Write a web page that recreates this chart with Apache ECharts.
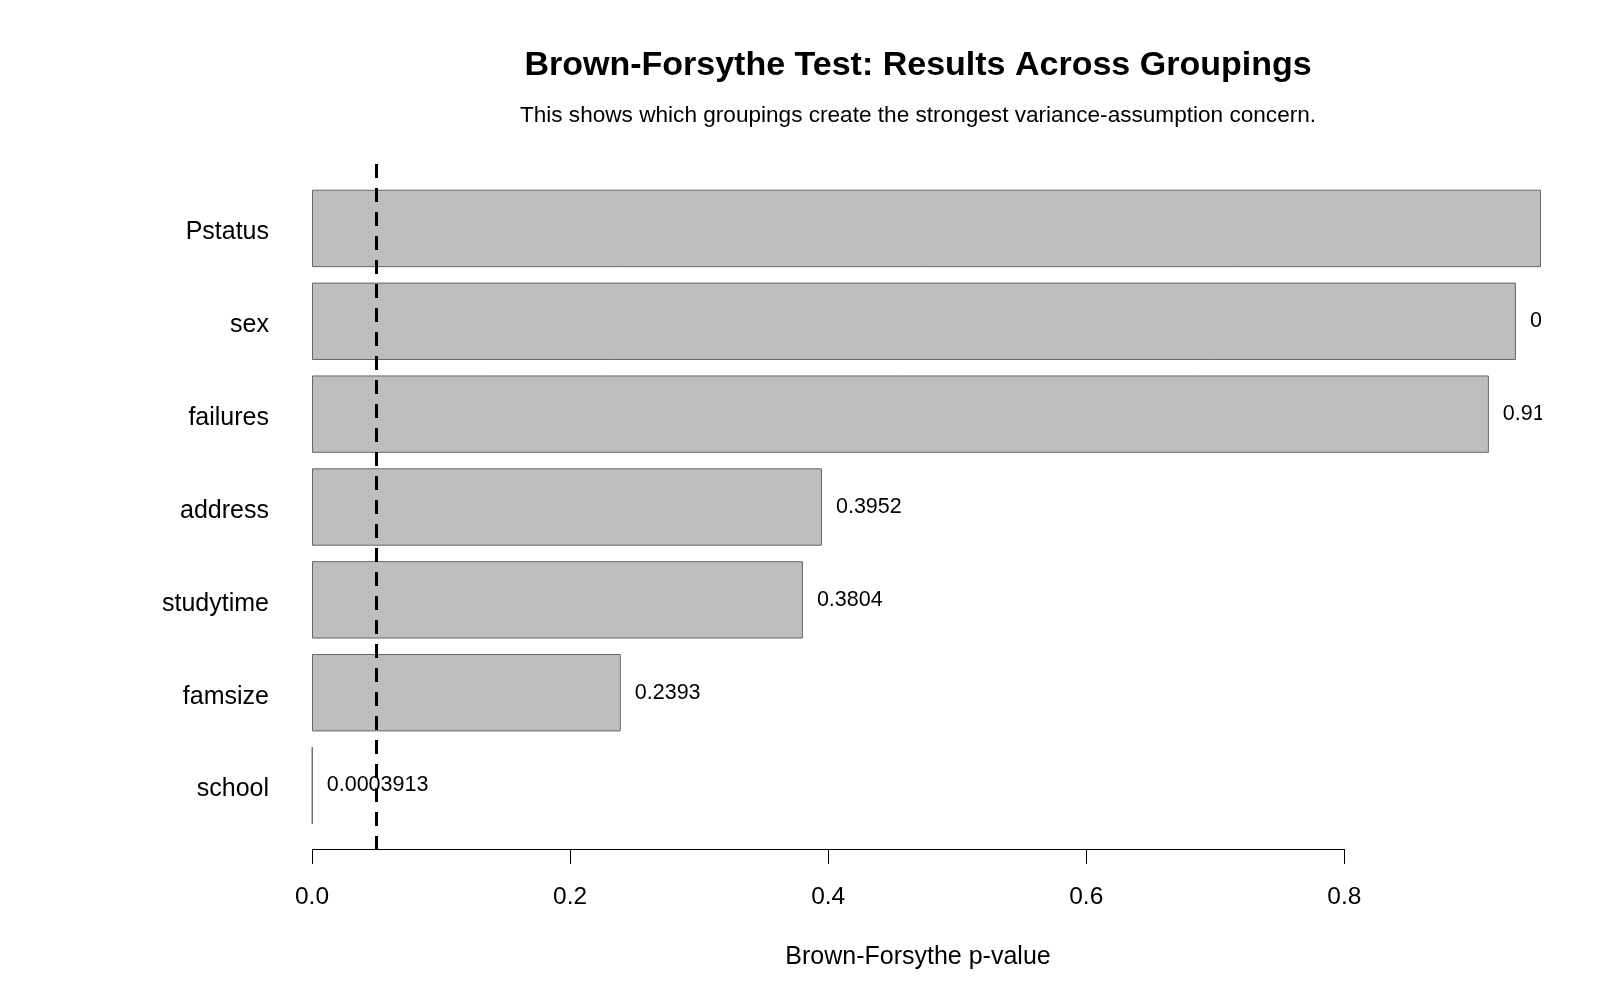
<!DOCTYPE html>
<html>
<head>
<meta charset="utf-8">
<title>Brown-Forsythe Test</title>
<script src="https://cdn.jsdelivr.net/npm/echarts@6/dist/echarts.min.js"></script>
<style>
  html, body { margin: 0; padding: 0; background: #fff; }
  #main { width: 1600px; height: 1000px; }
</style>
</head>
<body>
<div id="main"></div>
<script>
// groupings, bottom to top as drawn
var groupings = ['school', 'famsize', 'studytime', 'address', 'failures', 'sex', 'Pstatus'];
var pValues = [0.0003913, 0.2393, 0.3804, 0.3952, 0.912, 0.933, 0.9524];
var xTicks = [0, 0.2, 0.4, 0.6, 0.8];
var cutoff = 0.05;

var font = '"Liberation Sans", Arial, sans-serif';
var xMax = Math.max.apply(null, pValues);

var chart = echarts.init(document.getElementById('main'));

chart.setOption({
    backgroundColor: '#fff',
    animation: false,
    grid: [
        { left: 312, right: 59, top: 182, bottom: 168 },
        { left: 312, right: 59, top: 164, bottom: 151 }
    ],
    xAxis: [
        { gridIndex: 0, type: 'value', min: 0, max: xMax, show: false },
        {
            gridIndex: 1, type: 'value', min: 0, max: xMax,
            axisLine: { show: false },
            splitLine: { show: false },
            axisTick: { show: true, length: 15, customValues: xTicks, lineStyle: { color: '#000', width: 1 } },
            axisLabel: {
                customValues: xTicks, margin: 36, fontSize: 24.5, color: '#000', fontFamily: font,
                formatter: function (v) { return v.toFixed(1); }
            }
        }
    ],
    yAxis: [
        {
            gridIndex: 0, type: 'category', data: groupings,
            axisLine: { show: false }, axisTick: { show: false }, splitLine: { show: false },
            // nudge the names a few px down, as R centres them lower
            axisLabel: { margin: 43, fontSize: 25, color: '#000', fontFamily: font, verticalAlign: 'top', lineHeight: 8 }
        },
        { gridIndex: 1, type: 'value', min: 0, max: 1, show: false }
    ],
    series: [
        {
            type: 'bar', xAxisIndex: 0, yAxisIndex: 0,
            data: pValues,
            barWidth: '83.33%',
            itemStyle: { color: '#bebebe', borderColor: '#666666', borderWidth: 1 },
            label: {
                show: true, position: 'right', distance: 14,
                fontSize: 21.5, color: '#000', fontFamily: font,
                formatter: function (p) { return String(p.value); }
            }
        },
        {
            // axis line (0 to 0.8) and the 0.05 reference line
            type: 'scatter', xAxisIndex: 1, yAxisIndex: 1, data: [], silent: true,
            markLine: {
                symbol: 'none', silent: true, animation: false,
                label: { show: false },
                lineStyle: { color: '#000', width: 1, type: 'solid' },
                data: [
                    [
                        { coord: [cutoff, 1], lineStyle: { color: '#000', width: 3, type: [14, 10] } },
                        { coord: [cutoff, 0] }
                    ],
                    [{ coord: [xTicks[0], 0] }, { coord: [xTicks[xTicks.length - 1], 0] }]
                ]
            }
        }
    ],
    graphic: [
        // plot region clipping on the right, like the original device
        { type: 'rect', z: 100, left: 1542, top: 0, shape: { width: 58, height: 1000 }, style: { fill: '#fff' } },
        {
            type: 'text', z: 101, x: 918, y: 66,
            style: { text: 'Brown-Forsythe Test: Results Across Groupings', font: 'bold 34px ' + font, fill: '#000', align: 'center', verticalAlign: 'middle' }
        },
        {
            type: 'text', z: 101, x: 918, y: 116,
            style: { text: 'This shows which groupings create the strongest variance-assumption concern.', font: '22.6px ' + font, fill: '#000', align: 'center', verticalAlign: 'middle' }
        },
        {
            type: 'text', z: 101, x: 918, y: 957,
            style: { text: 'Brown-Forsythe p-value', font: '25px ' + font, fill: '#000', align: 'center', verticalAlign: 'middle' }
        }
    ]
});
</script>
</body>
</html>
